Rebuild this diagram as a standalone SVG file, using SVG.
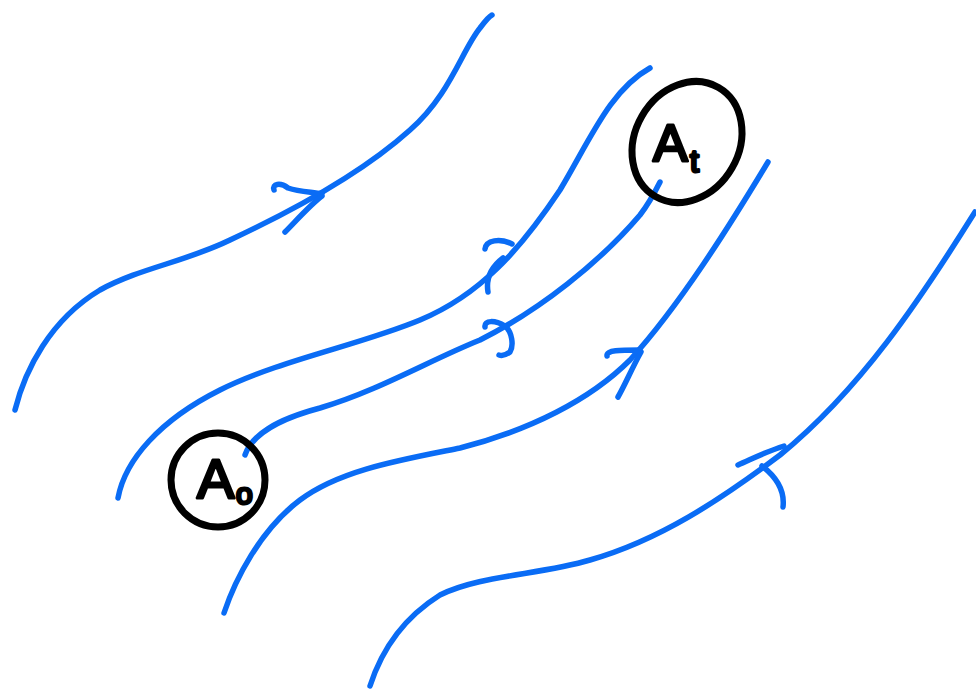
<svg xmlns="http://www.w3.org/2000/svg" width="976" height="691" viewBox="0 0 976 691">
<style>
.s{fill:none;stroke:#0a6cf5;stroke-width:5.5;stroke-linecap:round;stroke-linejoin:round}
.n{fill:none;stroke:#000;stroke-width:7}
.t{font-family:"Liberation Sans","DejaVu Sans",sans-serif;fill:#000;stroke:#000;stroke-width:3;stroke-linejoin:round}
</style>
<rect width="976" height="691" fill="#fff"/>
<g id="connectors">
<path class="s" d="M15,410 C25,370 50,320 100,290 C140,268 185,262 230,240 C290,212 360,175 410,130 C450,95 462,50 480,28 C486,20 490,16 492,15"/>
<path class="s" d="M274,190 C272,184 280,182 288,188 C300,192 312,192 322,194 M285,232 C295,222 310,205 322,196"/>
<path class="s" d="M118,498 C125,460 160,420 220,390 C280,360 360,345 420,320 C480,295 520,250 560,190 C590,140 610,90 650,68"/>
<path class="s" d="M485,249 C486,240 500,238 512,244 M488,292 C486,280 490,268 503,258"/>
<path class="s" d="M245,455 C252,435 275,420 320,408 C380,390 430,360 480,340 C540,310 600,262 640,215 C650,202 655,192 660,182"/>
<path class="s" d="M485,327 C484,320 495,320 505,326 C512,332 514,345 510,352 C506,355 502,356 499,355"/>
<path class="s" d="M224,613 C235,580 260,530 300,500 C340,470 400,460 460,448 C530,430 590,400 630,360 C680,305 730,225 768,162"/>
<path class="s" d="M607,356 C606,350 620,350 640,350 M618,397 C625,385 632,368 641,352"/>
<path class="s" d="M370,686 C380,655 400,620 440,595 C480,575 540,575 590,560 C660,540 720,500 780,455 C860,390 920,300 975,212"/>
<path class="s" d="M738,465 C750,460 765,452 784,446 M762,466 C775,476 785,490 783,507"/>
</g>
<g id="A0">
<circle class="n" cx="218" cy="480" r="47"/>
<text class="t" x="197" y="498" font-size="56">A</text>
<text class="t" x="236" y="504" font-size="30">o</text>
</g>
<g id="At">
<ellipse class="n" cx="687" cy="142" rx="52" ry="63" transform="rotate(30 687 142)"/>
<text class="t" x="653" y="161" font-size="52">A</text>
<text class="t" x="690" y="172" font-size="32">t</text>
</g>
</svg>
